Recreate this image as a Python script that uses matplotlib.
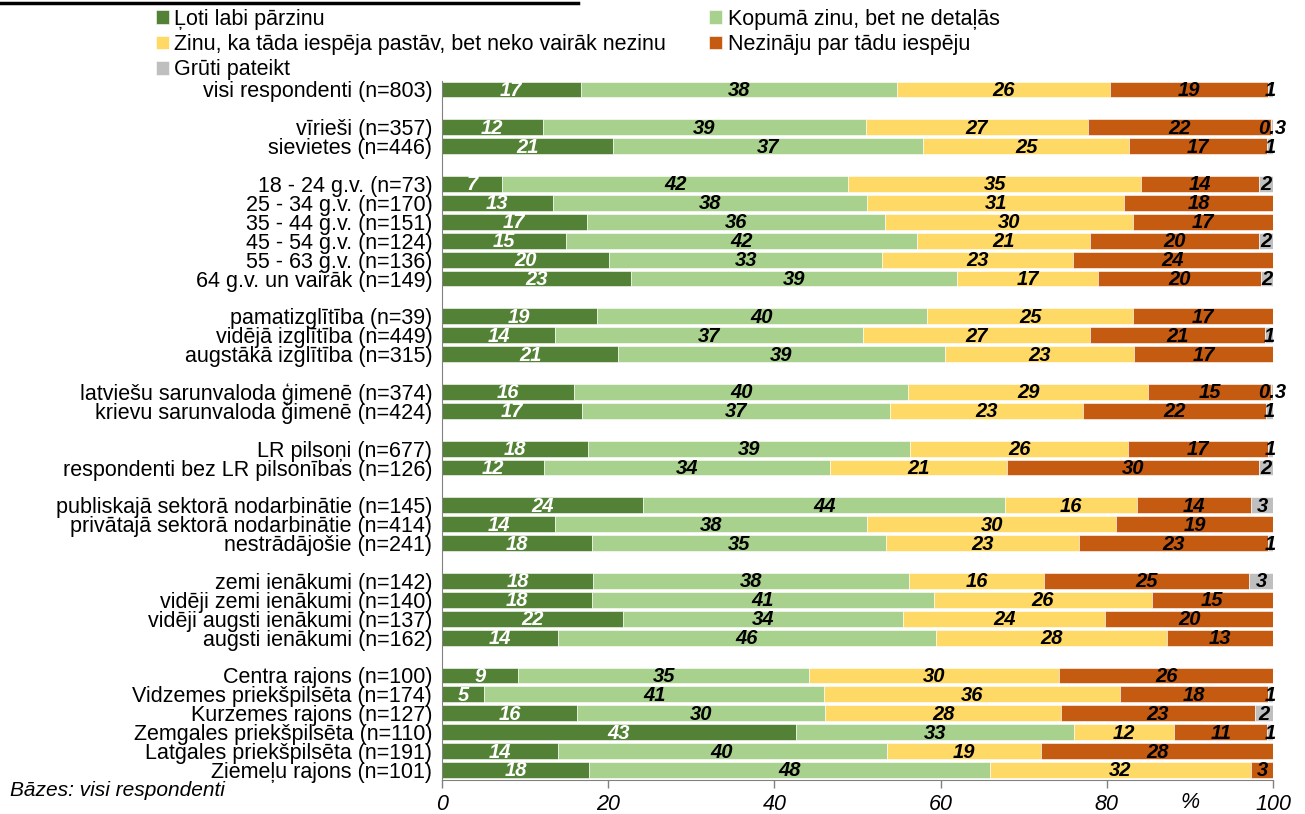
import matplotlib.pyplot as plt
from matplotlib.lines import Line2D
import numpy as np

plt.rcParams['font.family'] = ['Liberation Sans', 'DejaVu Sans']

# kategorijas (grupās)
categories = ['visi respondenti (n=803)',
              'vīrieši (n=357)', 'sievietes (n=446)',
              '18 - 24 g.v. (n=73)', '25 - 34 g.v. (n=170)', '35 - 44 g.v. (n=151)',
              '45 - 54 g.v. (n=124)', '55 - 63 g.v. (n=136)', '64 g.v. un vairāk (n=149)',
              'pamatizglītība (n=39)', 'vidējā izglītība (n=449)', 'augstākā izglītība (n=315)',
              'latviešu sarunvaloda ģimenē (n=374)', 'krievu sarunvaloda ģimenē (n=424)',
              'LR pilsoņi (n=677)', 'respondenti bez LR pilsonības (n=126)',
              'publiskajā sektorā nodarbinātie (n=145)', 'privātajā sektorā nodarbinātie (n=414)',
              'nestrādājošie (n=241)',
              'zemi ienākumi (n=142)', 'vidēji zemi ienākumi (n=140)',
              'vidēji augsti ienākumi (n=137)', 'augsti ienākumi (n=162)',
              'Centra rajons (n=100)', 'Vidzemes priekšpilsēta (n=174)', 'Kurzemes rajons (n=127)',
              'Zemgales priekšpilsēta (n=110)', 'Latgales priekšpilsēta (n=191)',
              'Ziemeļu rajons (n=101)']
group_sizes = [1, 2, 6, 3, 2, 2, 3, 4, 6]

loti_labi = [16.7, 12.1, 20.6, 7.2, 13.3, 17.4, 14.9, 20.1, 22.8, 18.6, 13.6, 21.2, 15.9, 16.9,
             17.6, 12.3, 24.2, 13.6, 18.0, 18.2, 18.0, 21.8, 13.9, 9.2, 5.1, 16.3, 42.6, 13.9, 17.7]
kopuma = [38.1, 38.9, 37.3, 41.7, 37.9, 35.9, 42.3, 32.9, 39.2, 39.8, 37.0, 39.3, 40.2, 37.0,
          38.7, 34.4, 43.6, 37.6, 35.4, 38.0, 41.2, 33.7, 45.6, 35.0, 40.9, 29.8, 33.4, 39.6, 48.2]
zinu = [25.6, 26.7, 24.8, 35.2, 30.9, 29.9, 20.8, 22.9, 16.9, 24.8, 27.4, 22.8, 28.9, 23.2,
        26.3, 21.3, 15.8, 29.9, 23.2, 16.3, 26.2, 24.3, 27.8, 30.1, 35.6, 28.4, 12.1, 18.6, 31.5]
nezinu = [19.0, 22.0, 16.6, 14.2, 17.9, 16.8, 20.3, 24.1, 19.6, 16.8, 21.0, 16.7, 14.7, 22.1,
          16.8, 30.3, 13.8, 18.9, 22.8, 24.6, 14.6, 20.2, 12.7, 25.7, 17.8, 23.3, 11.2, 27.9, 2.6]
gruti = [0.6, 0.3, 0.7, 1.7, 0, 0, 1.7, 0, 1.5, 0, 1.0, 0, 0.3, 0.8, 0.6, 1.7, 2.6, 0, 0.6,
         2.9, 0, 0, 0, 0, 0.6, 2.2, 0.7, 0, 0]

series = [('Ļoti labi pārzinu', loti_labi, '#538135', 'white'),
          ('Kopumā zinu, bet ne detaļās', kopuma, '#A9D18E', 'black'),
          ('Zinu, ka tāda iespēja pastāv, bet neko vairāk nezinu', zinu, '#FFD966', 'black'),
          ('Nezināju par tādu iespēju', nezinu, '#C55A11', 'black'),
          ('Grūti pateikt', gruti, '#BFBFBF', 'black')]

# pozīcijas ar tukšām rindām starp grupām
pos = []
slot = 0
for g in group_sizes:
    for i in range(g):
        pos.append(slot)
        slot += 1
    slot += 1
pos = np.array(pos)

fig = plt.figure(figsize=(13.05, 8.14), dpi=100)
ax = fig.add_axes([0.3387, 0.0418, 0.6368, 0.8587])

left = np.zeros(len(categories))
bars = {}
for name, vals, col, tcol in series:
    vals = np.array(vals)
    b = ax.barh(pos, vals, left=left, height=0.84, color=col, edgecolor='white',
                linewidth=0.4, label=name)
    bars[name] = b
    for y, l, v in zip(pos, left, vals):
        if v <= 0:
            continue
        txt = f'{v:.1f}' if v < 0.5 else f'{v:.0f}'
        ax.text(l + v / 2, y + 0.05, txt, ha='center', va='center', color=tcol,
                fontsize=14.5, fontweight='bold', fontstyle='italic')
    left = left + vals

ax.set_xlim(0, 100)
ax.set_ylim(36.53, -0.45)
ax.set_yticks(pos)
ax.set_yticklabels(categories, fontsize=15.5)
ax.tick_params(axis='y', length=0, pad=7)
ax.set_xticks([0, 20, 40, 60, 80, 100])
ax.set_xticklabels(['0', '20', '40', '60', '80', '100'], fontsize=15.5, fontstyle='italic')
ax.tick_params(axis='x', length=6, width=1, color='#808080', pad=4)
for s in ['top', 'right']:
    ax.spines[s].set_visible(False)
for s in ['left', 'bottom']:
    ax.spines[s].set_color('#808080')
ax.text(90, -0.0165, '%', transform=ax.get_xaxis_transform(), ha='center', va='top',
        fontsize=15.5, fontstyle='italic')

order = ['Ļoti labi pārzinu', 'Zinu, ka tāda iespēja pastāv, bet neko vairāk nezinu',
         'Grūti pateikt', 'Kopumā zinu, bet ne detaļās', 'Nezināju par tādu iespēju']
fig.legend([bars[n] for n in order], order, loc='upper left', bbox_to_anchor=(0.118, 0.992),
           ncol=2, frameon=False, fontsize=15.5, handlelength=0.6, handleheight=0.6,
           handletextpad=0.25, labelspacing=0.2, columnspacing=2.0, borderpad=0.1,
           borderaxespad=0)

fig.add_artist(Line2D([0, 578 / 1305], [1 - 3 / 814, 1 - 3 / 814], color='black', lw=2.5,
                      transform=fig.transFigure))
fig.text(10 / 1305, 1 - 790 / 814, 'Bāzes: visi respondenti', fontsize=15, fontstyle='italic',
         va='center')

fig.savefig('out.png', dpi=100)
